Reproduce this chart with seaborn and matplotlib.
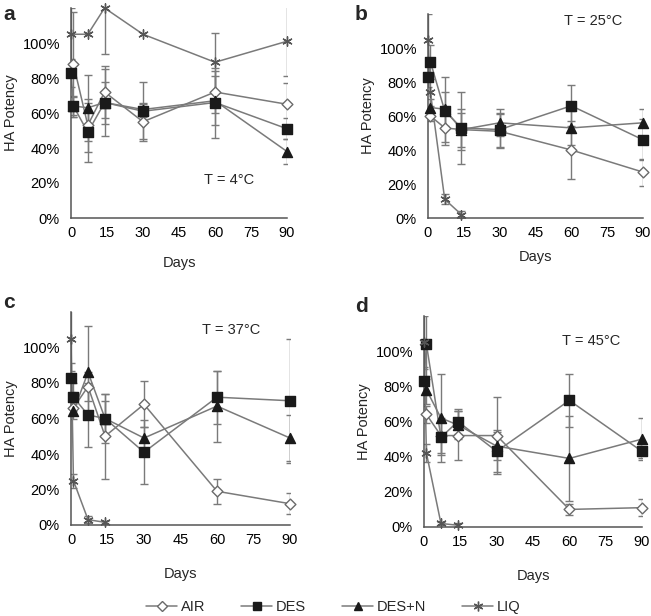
import numpy as np
import pandas as pd
import matplotlib
matplotlib.use("Agg")
import matplotlib.pyplot as plt
from matplotlib.lines import Line2D
from matplotlib.ticker import FuncFormatter
import seaborn as sns

nan = np.nan
DAYS = [0, 1, 7, 14, 30, 60, 90]
SERIES = ["AIR", "DES", "DES+N", "LIQ"]
PANELS = ["a", "b", "c", "d"]
TEMPS = ["T = 4°C", "T = 25°C", "T = 37°C", "T = 45°C"]
X_TICKS = [0, 15, 30, 45, 60, 75, 90]
Y_TICKS = [0, 20, 40, 60, 80, 100]

# Panel a (4 °C)
a_air = [nan, 88, 53, 72, 55, 72, 65]
a_air_err = [nan, 30, 15, 15, 10, 12, 12]
a_des = [83, 64, 49, 66, 61, 66, 51]
a_des_err = [8, 6, 17, 19, 17, 20, 6]
a_desn = [nan, 64, 63, 66, 62, 67, 38]
a_desn_err = [nan, 5, 19, 12, 4, 14, 7]
a_liq = [105, nan, 105, 120, 105, 89, 101]
a_liq_err = [15, nan, nan, 26, nan, 17, 20]

# Panel b (25 °C)
b_air = [nan, 60, 53, 52, 51, 40, 27]
b_air_err = [nan, 3, 8, 12, 10, 17, 8]
b_des = [83, 92, 63, 53, 52, 66, 46]
b_des_err = [6, 10, 20, 21, 10, 12, 12]
b_desn = [nan, 65, 64, 52, 56, 53, 56]
b_desn_err = [nan, 5, 10, 10, 8, 10, 8]
b_liq = [105, 74, 11, 2, nan, nan, nan]
b_liq_err = [15, 8, 3, 2, nan, nan, nan]

# Panel c (37 °C)
c_air = [nan, 66, 78, 50, 68, 19, 12]
c_air_err = [nan, 4, 8, 24, 13, 7, 6]
c_des = [83, 72, 62, 60, 41, 72, 70]
c_des_err = [8, 8, 18, 14, 18, 15, 35]
c_desn = [nan, 64, 86, 60, 49, 67, 49]
c_desn_err = [nan, 4, 26, 10, 6, 20, 13]
c_liq = [105, 25, 3, 1.5, nan, nan, nan]
c_liq_err = [18, 4, 2, 1, nan, nan, nan]

# Panel d (45 °C)
d_air = [nan, 64, 52, 52, 52, 10, 11]
d_air_err = [nan, 5, 10, 14, 22, 3, 5]
d_des = [83, 104, 51, 60, 43, 72, 43]
d_des_err = [8, 20, 10, 7, 12, 15, 4]
d_desn = [nan, 78, 62, 58, 46, 39, 50]
d_desn_err = [nan, 8, 25, 8, 8, 24, 12]
d_liq = [105, 42, 2, 1, nan, nan, nan]
d_liq_err = [15, 5, 1, 1, nan, nan, nan]

panel_data = {
    "a": [(a_air, a_air_err), (a_des, a_des_err), (a_desn, a_desn_err), (a_liq, a_liq_err)],
    "b": [(b_air, b_air_err), (b_des, b_des_err), (b_desn, b_desn_err), (b_liq, b_liq_err)],
    "c": [(c_air, c_air_err), (c_des, c_des_err), (c_desn, c_desn_err), (c_liq, c_liq_err)],
    "d": [(d_air, d_air_err), (d_des, d_des_err), (d_desn, d_desn_err), (d_liq, d_liq_err)],
}

rows = []
for p in PANELS:
    for s, (vals, errs) in zip(SERIES, panel_data[p]):
        for day, v, e in zip(DAYS, vals, errs):
            rows.append({"panel": p, "series": s, "day": day, "value": v, "err": e})
df = pd.DataFrame(rows).dropna(subset=["value"])

sns.set_theme(style="white")
plt.rcParams["font.family"] = ["Liberation Sans", "DejaVu Sans"]
plt.rcParams["font.size"] = 10

LINE = "#7a7a7a"
marker_style = {
    "AIR": dict(marker="D", face="white", edge="#6a6a6a", s=30),
    "DES": dict(marker="s", face="#1a1a1a", edge="#1a1a1a", s=46),
    "DES+N": dict(marker="^", face="#1a1a1a", edge="#1a1a1a", s=52),
    "LIQ": dict(marker=(6, 2, 0), face="#555555", edge="#555555", s=45),
}

W, H = 651, 616
fig = plt.figure(figsize=(W / 100, H / 100), dpi=100)
boxes = {
    "a": (71, 8, 216, 210),
    "b": (428, 14, 215, 204),
    "c": (71, 312, 219, 213),
    "d": (424, 316, 218, 211),
}
temp_pos = {"a": (66, 22), "b": (69, 116), "c": (66, 110), "d": (69, 106)}
letter_pos = {"a": (3, 14), "b": (355, 14), "c": (3, 303), "d": (355, 306)}
xlab_y = {"a": 263, "b": 257, "c": 574, "d": 576}

for p, temp in zip(PANELS, TEMPS):
    l, t, w, h = boxes[p]
    ax = fig.add_axes([l / W, 1 - (t + h) / H, w / W, h / H])
    sub = df[df.panel == p]
    for s in SERIES:
        ss = sub[sub.series == s]
        ax.errorbar(ss.day, ss.value, yerr=ss.err, fmt="none", ecolor=LINE,
                    elinewidth=1.0, capsize=3, capthick=1.0, zorder=1)
    sns.lineplot(data=sub, x="day", y="value", hue="series",
                 palette={s: LINE for s in SERIES}, legend=False, ax=ax,
                 lw=1.1, sort=True, estimator=None, zorder=2)
    for s in SERIES:
        ss = sub[sub.series == s]
        st = marker_style[s]
        if s == "LIQ":
            sns.scatterplot(x=ss.day, y=ss.value, ax=ax, marker=st["marker"],
                            color=st["edge"], s=st["s"], linewidth=1.0,
                            legend=False, zorder=3, clip_on=False)
        else:
            sns.scatterplot(x=ss.day, y=ss.value, ax=ax, marker=st["marker"],
                            color=st["face"], edgecolor=st["edge"], s=st["s"],
                            linewidth=1.0, legend=False, zorder=3, clip_on=False)
    ax.set_xlim(0, 90)
    ax.set_ylim(0, 120)
    ax.set_xticks(X_TICKS)
    ax.set_yticks(Y_TICKS)
    ax.yaxis.set_major_formatter(FuncFormatter(lambda v, pos: f"{v:.0f}%"))
    ax.tick_params(direction="in", length=4, width=1, colors="#555555",
                   labelcolor="black", labelsize=10.5)
    ax.tick_params(axis="y", pad=8)
    ax.tick_params(axis="x", pad=6)
    for side in ["top", "right"]:
        ax.spines[side].set_visible(False)
    for side in ["left", "bottom"]:
        ax.spines[side].set_color("#555555")
        ax.spines[side].set_linewidth(1.1)
    ax.set_xlabel("")
    ax.set_ylabel("HA Potency", fontsize=10.5, labelpad=3)
    ax.text(*temp_pos[p], temp, ha="center", va="center", fontsize=10.5)
    fig.text((l + w / 2) / W, 1 - xlab_y[p] / H, "Days", ha="center",
             va="center", fontsize=10.5)
    fig.text(letter_pos[p][0] / W, 1 - letter_pos[p][1] / H, p,
             ha="left", va="center", fontsize=15, fontweight="bold")

handles = []
for s in SERIES:
    st = marker_style[s]
    if s == "LIQ":
        handles.append(Line2D([], [], color=LINE, lw=1.1, marker=st["marker"],
                              markeredgecolor=st["edge"], markersize=7,
                              markeredgewidth=1.0))
    else:
        handles.append(Line2D([], [], color=LINE, lw=1.1, marker=st["marker"],
                              markerfacecolor=st["face"], markeredgecolor=st["edge"],
                              markersize=6 if s != "AIR" else 5.5,
                              markeredgewidth=1.0))
fig.legend(handles, SERIES, loc="center", bbox_to_anchor=(0.512, 1 - 607 / H),
           ncol=4, frameon=False, fontsize=10.5, handlelength=2.1,
           handletextpad=0.25, columnspacing=2.5)

fig.savefig("out.png", dpi=100)
